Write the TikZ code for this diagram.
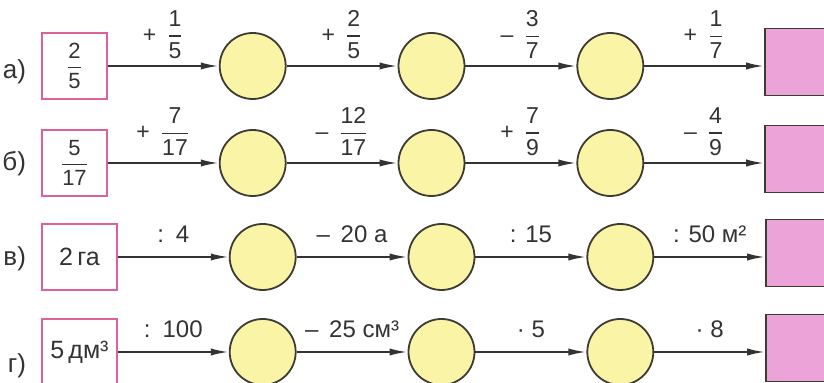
\documentclass[tikz,border=0pt]{standalone}
\usepackage{fontspec}
\setmainfont{Liberation Sans}
\usepackage{amsmath}
\usepackage{xcolor}
\definecolor{Rose}{HTML}{E0609C}
\definecolor{Lilac}{HTML}{EBA3D8}
\definecolor{Lemon}{HTML}{F9F4A6}
\definecolor{Ink}{HTML}{333333}
\definecolor{Edge}{HTML}{3E3A34}
\usetikzlibrary{arrows.meta,positioning}
\newcommand{\fr}[2]{$\genfrac{}{}{0.9pt}{0}{\text{#1}}{\text{#2}}$}
\newcommand{\sfr}[3]{#1\hspace{5pt}\fr{#2}{#3}}

\begin{document}
\begin{tikzpicture}[x=0.5pt,y=-0.5pt,node distance=55.5pt,
  every node/.style={text=Ink,font=\fontsize{12}{14}\selectfont},
  lbl/.style={anchor=east,font=\fontsize{13}{15}\selectfont},
  startbox/.style={draw=Rose,line width=0.8pt,minimum width=32.5pt,minimum height=33pt,inner sep=0pt,font=\fontsize{11}{13}\selectfont},
  widebox/.style={startbox,minimum width=37.5pt,font=\fontsize{12.5}{14}\selectfont},
  ring/.style={circle,draw=Edge,fill=Lemon,line width=0.9pt,minimum size=33pt,inner sep=0pt},
  endbox/.style={draw=Edge,fill=Lilac,line width=0.9pt,minimum width=31pt,minimum height=33.5pt,inner sep=0pt,yshift=2pt},
  arr/.style={draw=Ink,line width=1pt,-{Latex[length=9pt,width=3.6pt]}},
  frl/.style={above,inner sep=3pt,font=\fontsize{11.5}{13}\selectfont},
  txl/.style={above=3.5pt,inner sep=3pt}]
\useasboundingbox (0,0) rectangle (824,383);
% row a
\node[lbl] (la) at (33,72) {а)};
\node[startbox] (sa) at (74.5,66) {\fr{2}{5}};
\node[ring,right=of sa] (a1) {};
\node[ring,right=of a1] (a2) {};
\node[ring,right=of a2] (a3) {};
\node[endbox,right=60pt of a3] (ae) {};
\draw[arr] (sa) -- node[frl]{\sfr{+}{1}{5}} (a1);
\draw[arr] (a1) -- node[frl]{\sfr{+}{2}{5}} (a2);
\draw[arr] (a2) -- node[frl]{\sfr{–}{3}{7}} (a3);
\draw[arr] (a3) -- node[frl]{\sfr{+}{1}{7}} (a3 -| ae.west);
% row b
\node[lbl] (lb) at (33,164) {б)};
\node[startbox] (sb) at (74.5,163) {\fr{5}{17}};
\node[ring,right=of sb] (b1) {};
\node[ring,right=of b1] (b2) {};
\node[ring,right=of b2] (b3) {};
\node[endbox,right=60pt of b3] (be) {};
\draw[arr] (sb) -- node[frl]{\sfr{+}{7}{17}} (b1);
\draw[arr] (b1) -- node[frl]{\sfr{–}{12}{17}} (b2);
\draw[arr] (b2) -- node[frl]{\sfr{+}{7}{9}} (b3);
\draw[arr] (b3) -- node[frl]{\sfr{–}{4}{9}} (b3 -| be.west);
% row v
\node[lbl] (lv) at (33,259) {в)};
\node[widebox] (sv) at (79.5,257) {2\,га};
\node[ring,right=of sv] (v1) {};
\node[ring,right=of v1] (v2) {};
\node[ring,right=of v2] (v3) {};
\node[endbox,right=of v3] (ve) {};
\draw[arr] (sv) -- node[txl]{:\enspace 4} (v1);
\draw[arr] (v1) -- node[txl]{–\, 20 а} (v2);
\draw[arr] (v2) -- node[txl]{: 15} (v3);
\draw[arr] (v3) -- node[txl]{: 50 м²} (v3 -| ve.west);
% row g
\node[lbl] (lg) at (33,366) {г)};
\node[widebox] (sg) at (79.5,352) {5\,дм³};
\node[ring,right=of sg] (g1) {};
\node[ring,right=of g1] (g2) {};
\node[ring,right=of g2] (g3) {};
\node[endbox,right=of g3] (ge) {};
\draw[arr] (sg) -- node[txl]{:\enspace 100} (g1);
\draw[arr] (g1) -- node[txl]{–\, 25 см³} (g2);
\draw[arr] (g2) -- node[txl]{· 5} (g3);
\draw[arr] (g3) -- node[txl]{· 8} (g3 -| ge.west);
\end{tikzpicture}
\end{document}
